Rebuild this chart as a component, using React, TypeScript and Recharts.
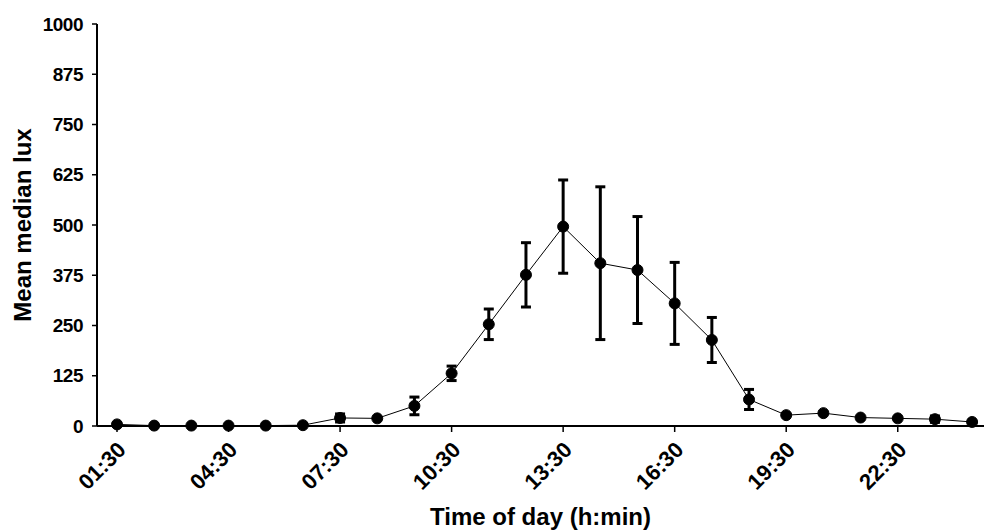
import {LineChart, Line, XAxis, YAxis, ErrorBar, Label} from "recharts";

const times = ["01:30", "02:30", "03:30", "04:30", "05:30", "06:30", "07:30", "08:30", "09:30", "10:30", "11:30", "12:30",
    "13:30", "14:30", "15:30", "16:30", "17:30", "18:30", "19:30", "20:30", "21:30", "22:30", "23:30", "00:30"];
const luxMean = [4, 1, 1, 1, 1, 2, 20, 19, 50, 131, 253, 376, 496, 405, 388, 305, 214, 66, 27, 32, 21, 19, 17, 10];
const luxErr = [0, 0, 0, 0, 0, 0, 10, 0, 22, 18, 38, 80, 116, 190, 133, 102, 56, 25, 0, 0, 0, 0, 8, 0];
const yTicks = [0, 125, 250, 375, 500, 625, 750, 875, 1000];
const xTicks = [0, 3, 6, 9, 12, 15, 18, 21];

const data = times.map((t, i) => ({idx: i, time: t, lux: luxMean[i], err: luxErr[i]}));

const FONT = "'Liberation Sans', Arial, sans-serif";

const TimeTick = ({x, y, payload}) => (
    <g transform={`translate(${x - 1},${y + 2})`}>
        <text textAnchor="end" transform="rotate(-45)" dy="0.72em" fontSize={22} fontWeight="bold"
              fontFamily={FONT} fill="#000">
            {times[payload.value]}
        </text>
    </g>
);

export default function App() {
    return (
        <div style={{position: "absolute", left: 0, top: 0, width: 984, height: 531, background: "#fff"}}>
            <LineChart width={984} height={531} data={data} margin={{top: 24, right: 0, bottom: 0, left: 0}}>
                <XAxis dataKey="idx" type="number" domain={[-0.538, 23.32]} ticks={xTicks} interval={0}
                       allowDataOverflow tick={<TimeTick/>} height={105} tickSize={6} tickMargin={6}
                       axisLine={{stroke: "#000", strokeWidth: 2}} tickLine={{stroke: "#000", strokeWidth: 1.5}}>
                    <Label value="Time of day (h:min)" position="insideBottom" offset={6}
                           style={{fontSize: 24, fontWeight: "bold", fontFamily: FONT, fill: "#000"}}/>
                </XAxis>
                <YAxis type="number" domain={[0, 1000]} ticks={yTicks} interval={0} width={97} tickSize={5}
                       tickMargin={9} axisLine={{stroke: "#000", strokeWidth: 2}}
                       tickLine={{stroke: "#000", strokeWidth: 1.5}}
                       tick={{fontSize: 19, fontWeight: "bold", fontFamily: FONT, fill: "#000", letterSpacing: -0.5}}>
                    <Label value="Mean median lux" angle={-90} position="insideLeft" offset={22}
                           style={{fontSize: 24, fontWeight: "bold", fontFamily: FONT, fill: "#000", textAnchor: "middle"}}/>
                </YAxis>
                <Line dataKey="lux" stroke="#000" strokeWidth={1} isAnimationActive={false}
                      dot={{r: 5.5, fill: "#000", stroke: "#000", strokeWidth: 1}} activeDot={false}>
                    <ErrorBar dataKey="err" width={5} stroke="#000" strokeWidth={3} direction="y"/>
                </Line>
            </LineChart>
        </div>
    );
}
